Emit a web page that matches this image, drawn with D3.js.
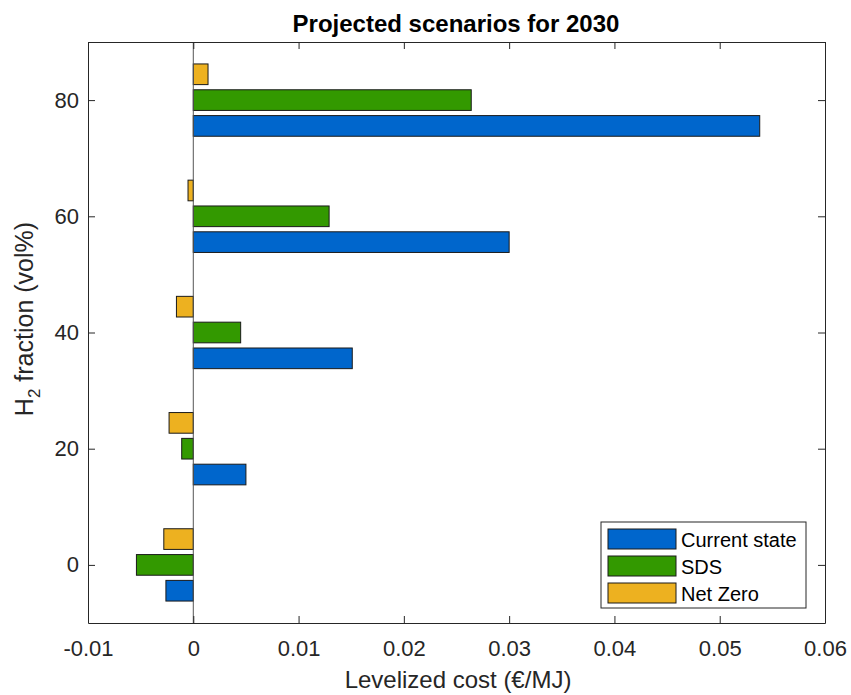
<!DOCTYPE html>
<html>
<head>
<meta charset="utf-8">
<script src="https://cdn.jsdelivr.net/npm/d3@7"></script>
<style>
  body { margin: 0; background: #fff; }
  text { font-family: "Liberation Sans", Arial, sans-serif; fill: #262626; }
</style>
</head>
<body>
<div id="chart"></div>
<script>
// H2 fraction categories (vol%)
const fractions = [0, 20, 40, 60, 80];
const seriesNames = ['Current state', 'SDS', 'Net Zero'];
const currentState = [-0.0026, 0.0050, 0.0151, 0.0300, 0.0538];
const sds = [-0.0054, -0.0011, 0.0045, 0.0129, 0.0264];
const netZero = [-0.0028, -0.0023, -0.0016, -0.0005, 0.0014];
const xTicks = [-0.01, 0, 0.01, 0.02, 0.03, 0.04, 0.05, 0.06];
const yTicks = [0, 20, 40, 60, 80];
const colors = ['#0066cc', '#339900', '#edb120'];

const width = 851, height = 695;
const margin = { top: 42, right: 26, bottom: 72, left: 88 };
const innerWidth = width - margin.left - margin.right;
const innerHeight = height - margin.top - margin.bottom;

const svg = d3.select('#chart').append('svg')
  .attr('width', width)
  .attr('height', height);

const g = svg.append('g')
  .attr('transform', `translate(${margin.left},${margin.top})`);

const x = d3.scaleLinear().domain([-0.01, 0.06]).range([0, innerWidth]);
const y = d3.scaleLinear().domain([-10, 90]).range([innerHeight, 0]);

// matlab-like grouping: group takes 3/4.5 of category spacing
const groupWidth = 20 * 3 / 4.5;
const slot = groupWidth / 3;
const barH = slot * 0.8;

const series = [currentState, sds, netZero];
series.forEach((vals, s) => {
  const offset = (s - 1) * slot;
  g.selectAll('.bar-' + s)
    .data(vals)
    .enter().append('rect')
    .attr('x', d => x(Math.min(0, d)))
    .attr('width', d => Math.abs(x(d) - x(0)))
    .attr('y', (d, i) => y(fractions[i] + offset + barH / 2))
    .attr('height', y(0) - y(barH))
    .style('fill', colors[s])
    .style('stroke', '#1a1a1a')
    .style('stroke-width', '1px');
});

// baseline
g.append('line')
  .attr('x1', x(0)).attr('x2', x(0))
  .attr('y1', 0).attr('y2', innerHeight)
  .style('stroke', '#555')
  .style('stroke-width', '1px');

// Axes (ticks inward, box all round)
const tickLen = 7;
const fmtX = d => d === 0 ? '0' : String(+d.toFixed(2));

const xAxis = g.append('g')
  .attr('transform', `translate(0,${innerHeight})`)
  .call(d3.axisBottom(x).tickValues(xTicks).tickFormat(fmtX).tickSizeInner(-tickLen).tickSizeOuter(0).tickPadding(17));
const xTop = g.append('g')
  .call(d3.axisTop(x).tickValues(xTicks).tickSizeInner(-tickLen).tickSizeOuter(0));
const yAxis = g.append('g')
  .call(d3.axisLeft(y).tickValues(yTicks).tickSizeInner(-tickLen).tickSizeOuter(0).tickPadding(9));
const yRight = g.append('g')
  .attr('transform', `translate(${innerWidth},0)`)
  .call(d3.axisRight(y).tickValues(yTicks).tickSizeInner(-tickLen).tickSizeOuter(0));

// top/right only carry tick marks
xTop.selectAll('text').remove();
yRight.selectAll('text').remove();

[xAxis, xTop, yAxis, yRight].forEach(a => {
  a.selectAll('path').style('stroke', '#262626');
  a.selectAll('line').style('stroke', '#262626');
  a.selectAll('text').style('font-size', '22px').style('fill', '#262626')
    .style('font-family', '"Liberation Sans", Arial, sans-serif');
});

// Title and labels
svg.append('text')
  .attr('x', 456)
  .attr('y', 32)
  .attr('text-anchor', 'middle')
  .style('font-size', '24px')
  .style('font-weight', 'bold')
  .style('fill', '#000')
  .text('Projected scenarios for 2030');

svg.append('text')
  .attr('x', 458)
  .attr('y', 688)
  .attr('text-anchor', 'middle')
  .style('font-size', '24px')
  .text('Levelized cost (€/MJ)');

const yl = svg.append('text')
  .attr('transform', 'translate(33,319) rotate(-90)')
  .attr('text-anchor', 'middle')
  .style('font-size', '25px');
yl.append('tspan').text('H');
yl.append('tspan').attr('dy', 7).style('font-size', '17px').text('2');
yl.append('tspan').attr('dy', -7).text(' fraction (vol%)');

// Legend
const lg = svg.append('g').attr('transform', 'translate(601,522)');
lg.append('rect')
  .attr('width', 205).attr('height', 86)
  .style('fill', '#fff')
  .style('stroke', '#262626')
  .style('stroke-width', '1px');
seriesNames.forEach((name, i) => {
  const row = lg.append('g').attr('transform', `translate(7,${7 + i * 27})`);
  row.append('rect')
    .attr('width', 68).attr('height', 20)
    .style('fill', colors[i])
    .style('stroke', '#1a1a1a');
  row.append('text')
    .attr('x', 73).attr('y', 17.5)
    .style('font-size', '20px')
    .style('fill', '#000')
    .text(name);
});
</script>
</body>
</html>
